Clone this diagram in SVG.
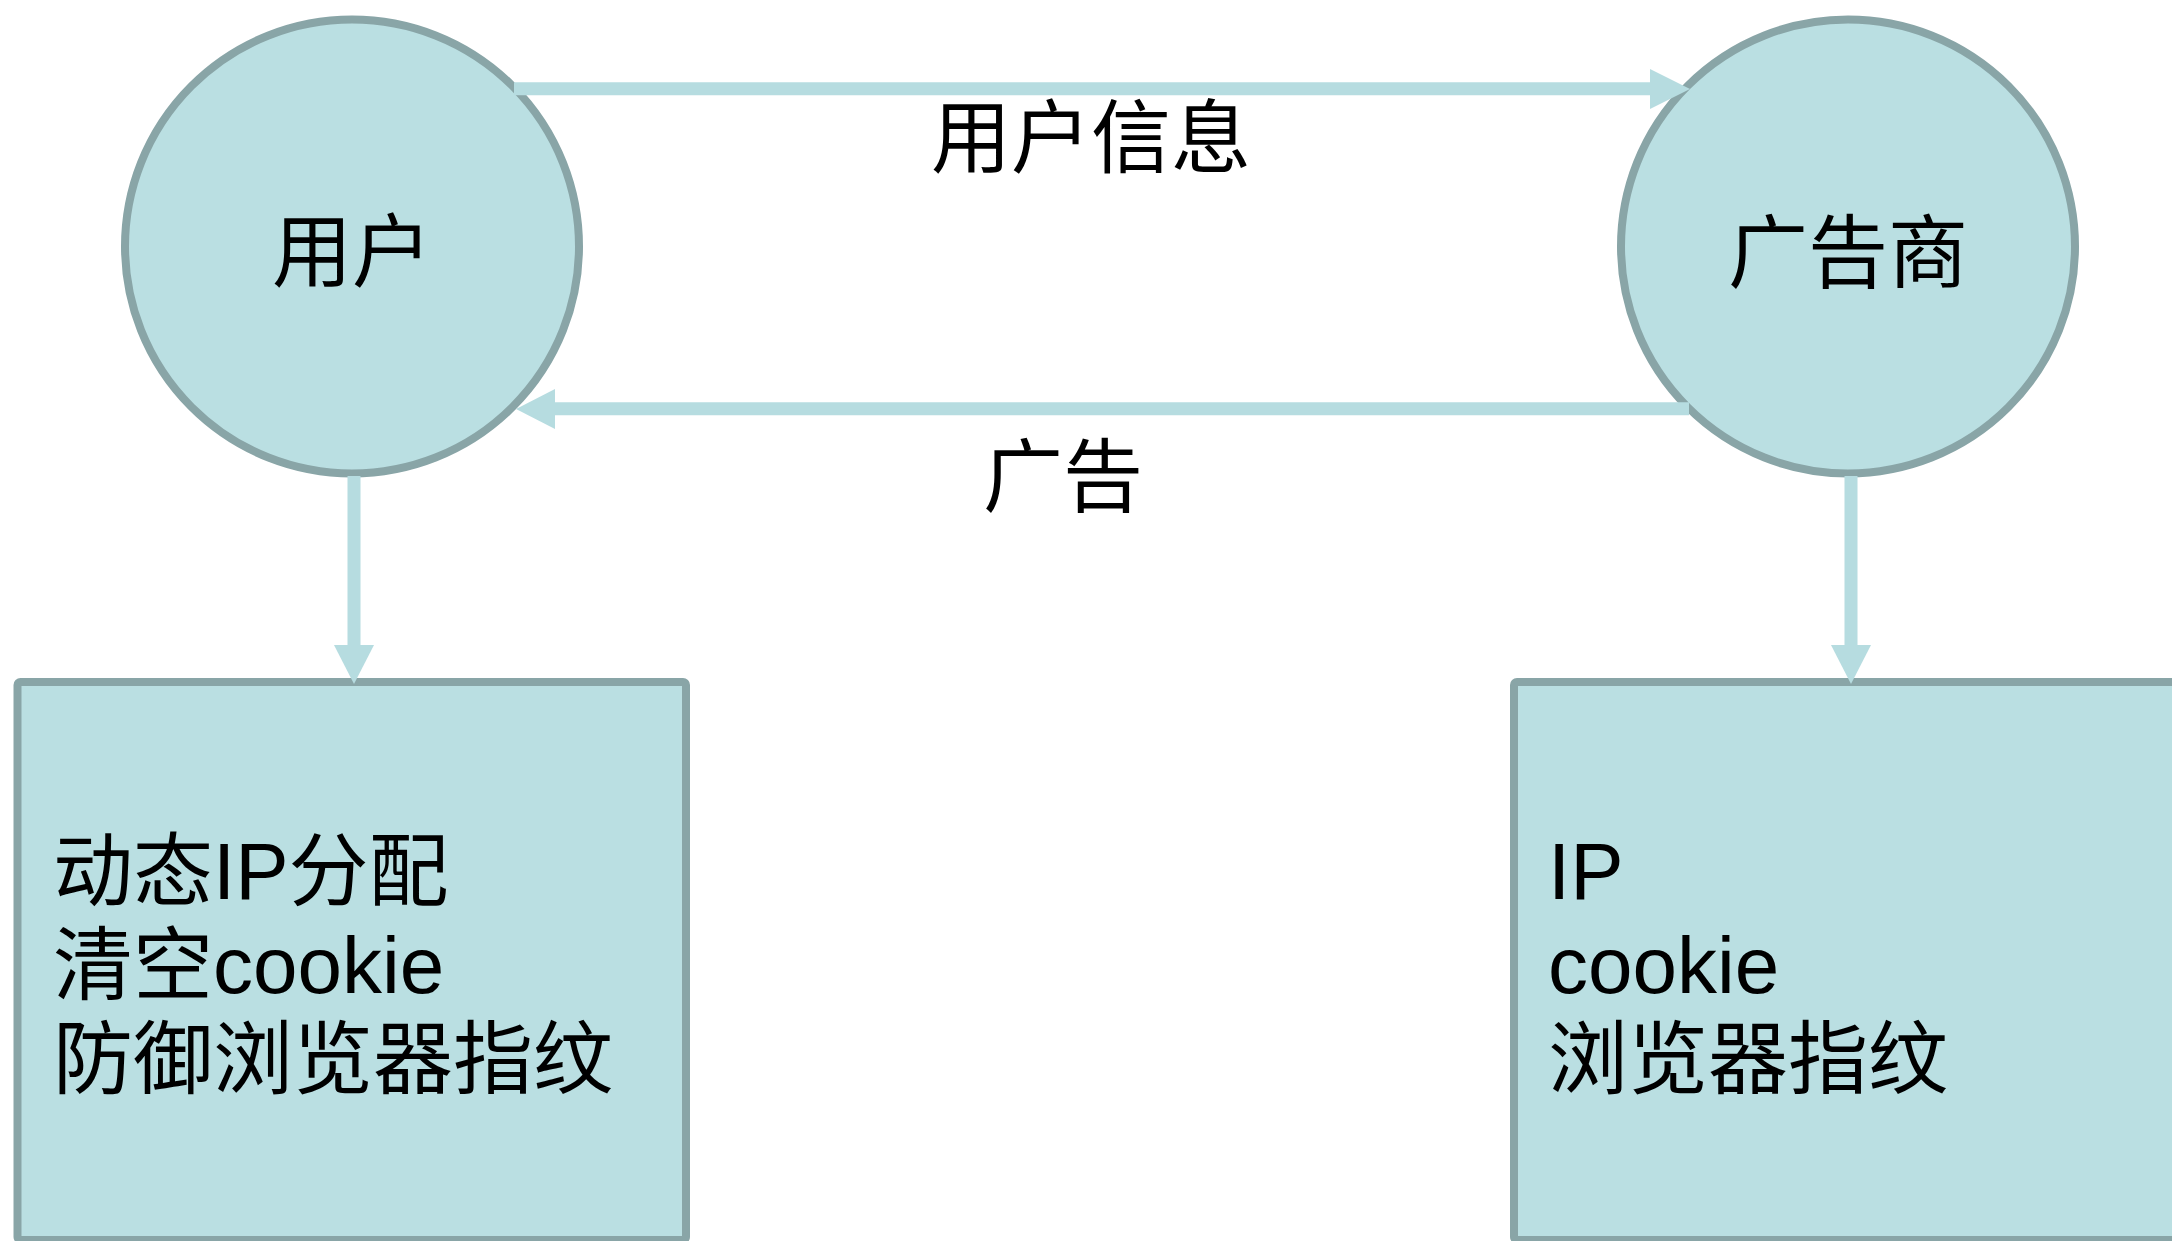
<svg xmlns="http://www.w3.org/2000/svg" width="2172" height="1241" viewBox="0 0 2172 1241">
<style>
.node{fill:#badfe2;stroke:#89a5a7;stroke-width:8}
.lbl{font-family:"Noto Sans CJK SC",sans-serif;font-size:80px;fill:#000}
.txt{font-family:"Liberation Sans","Noto Sans CJK SC",sans-serif;font-size:80px;fill:#000}
.cj{font-family:"Noto Sans CJK SC",sans-serif}
.ln{stroke:#b6dce0;stroke-width:13;fill:none}
.hd{fill:#b6dce0}
</style>
<rect width="2172" height="1241" fill="#ffffff"/>
<g id="node-user">
<circle class="node" cx="352" cy="246.5" r="227"/>
<text class="lbl" x="352" y="280" text-anchor="middle">用户</text>
</g>
<g id="node-advertiser">
<circle class="node" cx="1848" cy="246.5" r="227"/>
<text class="lbl" x="1848" y="281" text-anchor="middle">广告商</text>
</g>
<g id="node-user-box">
<rect class="node" x="17.5" y="682" width="668.5" height="558" rx="3"/>
<text class="txt" x="53" y="899"><tspan class="cj">动态</tspan>IP<tspan class="cj">分配</tspan></text>
<text class="txt" x="53" y="993"><tspan class="cj">清空</tspan>cookie</text>
<text class="txt" x="53" y="1087"><tspan class="cj">防御浏览器指纹</tspan></text>
</g>
<g id="node-adv-box">
<rect class="node" x="1514" y="682" width="700" height="558" rx="3"/>
<text class="txt" x="1548" y="899">IP</text>
<text class="txt" x="1548" y="993">cookie</text>
<text class="txt" x="1548" y="1087"><tspan class="cj">浏览器指纹</tspan></text>
</g>
<g id="connectors">
<line class="ln" x1="514" y1="88.7" x2="1651" y2="88.7"/>
<polygon class="hd" points="1650,69 1690,89 1650,109"/>
<text class="lbl" x="1091" y="166" text-anchor="middle">用户信息</text>
<line class="ln" x1="1689" y1="408.7" x2="554" y2="408.7"/>
<polygon class="hd" points="555,389 516,409 555,429"/>
<text class="lbl" x="1063" y="505" text-anchor="middle">广告</text>
<line class="ln" x1="354" y1="476" x2="354" y2="646"/>
<polygon class="hd" points="334,645 354,684 374,645"/>
<line class="ln" x1="1851" y1="476" x2="1851" y2="646"/>
<polygon class="hd" points="1831,645 1851,684 1871,645"/>
</g>
</svg>
